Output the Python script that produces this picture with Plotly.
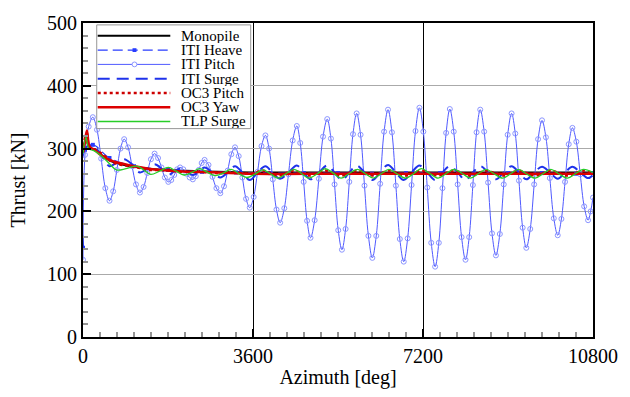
import plotly.graph_objects as go

# ---------------- data (azimuth in deg, thrust in kN) ----------------
az_pitch = [0, 42, 120, 208, 296, 385, 473, 561, 639, 717, 794, 872, 955, 1039, 1122,
            1205, 1283, 1361, 1438, 1516, 1589, 1662, 1734, 1807, 1869, 1932, 1994,
            2056, 2124, 2191, 2259, 2326, 2388, 2451, 2513, 2575, 2658, 2742, 2825,
            2908, 2986, 3064, 3141, 3219, 3297, 3375, 3453, 3531, 3614, 3697, 3780,
            3863, 3941, 4019, 4097, 4175, 4263, 4351, 4440, 4528, 4600, 4673, 4745,
            4818, 4906, 4995, 5083, 5172, 5250, 5327, 5405, 5483, 5561, 5639, 5717,
            5795, 5878, 5961, 6044, 6127, 6210, 6293, 6376, 6459, 6542, 6626, 6709,
            6792, 6875, 6958, 7041, 7124, 7207, 7290, 7374, 7457, 7535, 7612, 7690,
            7768, 7851, 7934, 8017, 8100, 8178, 8256, 8334, 8412, 8495, 8578, 8661,
            8744, 8827, 8910, 8993, 9076, 9154, 9232, 9310, 9388, 9471, 9554, 9637,
            9720, 9803, 9886, 9970, 10053, 10131, 10208, 10286, 10364, 10447, 10530,
            10613, 10696, 10750, 10800]
iti_pitch = [123, 290, 335, 350, 330, 284, 237, 217, 232, 266, 300, 315, 302, 272, 243,
             230, 239, 261, 283, 292, 285, 270, 254, 247, 250, 258, 267,
             270, 267, 260, 254, 251, 256, 266, 277, 282, 274, 255, 237,
             229, 240, 265, 291, 302, 288, 254, 220, 206, 223, 263, 304,
             321, 300, 251, 203, 182, 205, 259, 313, 336, 309, 247, 185,
             158, 186, 252, 319, 347, 316, 243, 170, 139, 172, 247, 323,
             356, 322, 241, 161, 126, 161, 244, 327, 362, 326, 241, 156,
             120, 157, 242, 328, 365, 327, 238, 150, 112, 150, 237, 325,
             363, 327, 243, 159, 123, 159, 242, 326, 362, 327, 246, 165,
             130, 164, 243, 322, 356, 324, 249, 174, 142, 172, 243, 315,
             345, 318, 253, 189, 162, 188, 247, 307, 333, 311, 259,
             208, 186, 200, 222]

az_surge = [0, 42, 208, 384, 561, 717, 872, 1038, 1205, 1360, 1516, 1662, 1807, 1932,
            2056, 2191, 2326, 2451, 2575, 2742, 2908, 3064, 3219, 3375, 3531, 3697,
            3863, 4019, 4175, 4351, 4528, 4673, 4818, 4995, 5172, 5327, 5483, 5639,
            5795, 5961, 6127, 6293, 6459, 6626, 6792, 6958, 7124, 7290, 7457, 7612,
            7768, 7934, 8100, 8256, 8412, 8578, 8744, 8910, 9076, 9232, 9388, 9554,
            9720, 9886, 10053, 10208, 10364, 10530, 10696, 10800]
iti_surge = [142, 300, 305, 290, 272, 278, 283, 275, 262, 268, 275, 268, 258, 264,
             268, 264, 258, 263, 270, 262, 254, 262, 272, 262, 250, 262,
             272, 261, 252, 262, 273, 262, 251, 262, 273, 262, 250, 262,
             273, 262, 250, 262, 274, 262, 250, 262, 273, 262, 250, 262,
             272, 262, 250, 262, 272, 262, 251, 262, 272, 262, 251, 262,
             271, 262, 252, 262, 271, 262, 253, 258]

az_heave = [0, 42, 208, 561, 1080, 1800, 2520, 3240, 3960, 4680, 5400, 6120, 6840,
            7560, 8280, 9000, 9720, 10440, 10800]
iti_heave = [142, 298, 306, 285, 272, 266, 263, 262, 261, 261, 261, 260, 261,
             261, 260, 261, 261, 260, 261]

az_mono = [0, 42, 83, 125, 166, 250, 353, 561, 768, 1080, 1392, 2015, 2845, 3600,
           5400, 7200, 9000, 10800]
monopile = [296, 312, 326, 305, 300, 299, 292, 281, 276, 271, 268, 265, 263, 262,
            262, 262, 262, 262]
oc3_yaw = [294, 311, 329, 306, 301, 298, 291, 282, 277, 272, 268, 264, 262, 260,
           260, 260, 260, 260]

az_tlp = [0, 62, 125, 249, 395, 561, 706, 914, 1142, 1288, 1433, 1620, 1807, 1973,
          2139, 2305, 2472, 2638, 2804, 2970, 3136, 3302, 3469, 3635,
          3801, 3967, 4133, 4299, 4466, 4632, 4777, 4964, 5130, 5296, 5463, 5629,
          5816, 5982, 6148, 6314, 6480, 6646, 6833, 7000, 7166, 7332, 7519, 7685,
          7851, 8038, 8204, 8370, 8536, 8703, 8890, 9056, 9222, 9388, 9575, 9741,
          9907, 10073, 10260, 10427, 10593, 10800]
tlp_surge = [292, 318, 300, 296, 288, 276, 266, 268, 272, 266, 259, 264, 270, 264,
             258, 262, 268, 262, 257, 261, 267, 260, 254, 259,
             266, 260, 253, 260, 267, 260, 253, 260, 268, 261, 253, 260,
             267, 260, 253, 260, 267, 260, 253, 260, 268, 261, 253, 260,
             267, 260, 253, 260, 267, 260, 253, 260, 267, 260, 253, 260,
             267, 260, 253, 260, 267, 262]
oc3_pitch = [294, 322, 303, 298, 292, 282, 276, 273, 270, 268, 266, 266, 266, 264,
             263, 263, 263, 262, 261, 261, 262, 261, 260, 261,
             265, 261, 257, 261, 265, 261, 257, 261, 265, 261, 257, 261,
             265, 261, 257, 261, 265, 261, 257, 261, 265, 261, 257, 261,
             265, 261, 257, 261, 265, 261, 257, 261, 265, 261, 257, 261,
             265, 261, 257, 261, 265, 261]

x_ticks = [0, 3600, 7200, 10800]
y_ticks = [0, 100, 200, 300, 400, 500]

# ---------------- styles ----------------
FONT = "'Liberation Serif', 'Times New Roman', 'DejaVu Serif', serif"
C_HEAVE = "rgb(40,60,255)"
C_PITCH = "rgb(80,90,255)"
C_PITCH_MK = "rgb(140,150,255)"
C_SURGE = "rgb(30,50,235)"
C_RED_DOT = "rgb(205,0,0)"
C_RED = "rgb(220,0,0)"
C_GREEN = "rgb(40,205,40)"

series = [
    dict(name="Monopile", x=az_mono, y=monopile, line=dict(color="black", width=2),
         mode="lines"),
    dict(name="ITI Heave", x=az_heave, y=iti_heave,
         line=dict(color=C_HEAVE, width=1.3, dash="10px,5px"),
         mode="lines+markers", marker=dict(symbol="square", size=4, color=C_HEAVE)),
    dict(name="ITI Pitch", x=az_pitch, y=iti_pitch, line=dict(color=C_PITCH, width=1),
         mode="lines+markers",
         marker=dict(symbol="circle-open", size=5, color=C_PITCH_MK, line=dict(width=1))),
    dict(name="ITI Surge", x=az_surge, y=iti_surge,
         line=dict(color=C_SURGE, width=2, dash="12px,7px"), mode="lines"),
    dict(name="OC3 Pitch", x=az_tlp, y=oc3_pitch,
         line=dict(color=C_RED_DOT, width=2.5, dash="3px,3px"), mode="lines"),
    dict(name="OC3 Yaw", x=az_mono, y=oc3_yaw, line=dict(color=C_RED, width=2.5),
         mode="lines"),
    dict(name="TLP Surge", x=az_tlp, y=tlp_surge, line=dict(color=C_GREEN, width=1.3),
         mode="lines"),
]

fig = go.Figure()
for s in series:
    ln = dict(s["line"])
    ln["shape"] = "spline"
    ln["smoothing"] = 1.0
    kw = dict(x=s["x"], y=s["y"], name=s["name"], mode=s["mode"], line=ln,
              showlegend=False, hoverinfo="skip")
    if "marker" in s:
        kw["marker"] = s["marker"]
    fig.add_trace(go.Scatter(**kw))

# ---------------- custom legend (shapes + text) ----------------
L, R, T, B = 83, 603, 16, 346
W, H = R - L, B - T
def px(x):
    return (x - L) / W
def py(y):
    return (B - y) / H

shapes = []
annotations = []
row_y = [29.5, 44.5, 59.5, 74.5, 89.5, 104.5, 119.5]
shapes.append(dict(type="rect", xref="paper", yref="paper", x0=px(97), x1=px(254),
                   y0=py(127), y1=py(18), fillcolor="white",
                   line=dict(color="rgb(150,150,150)", width=1), layer="above"))
for s, yy in zip(series, row_y):
    d = s["line"].get("dash", "solid")
    shapes.append(dict(type="line", xref="paper", yref="paper", x0=px(98), x1=px(172),
                       y0=py(yy), y1=py(yy), layer="above",
                       line=dict(color=s["line"]["color"], width=s["line"]["width"], dash=d)))
    annotations.append(dict(text=s["name"], xref="paper", yref="paper", x=px(181),
                            y=py(yy), xanchor="left", yanchor="middle", showarrow=False,
                            height=14,
                            font=dict(family=FONT, size=15, color="black")))
# legend symbols
shapes.append(dict(type="rect", xref="paper", yref="paper", x0=px(133.5), x1=px(137.5),
                   y0=py(row_y[1] + 2), y1=py(row_y[1] - 2), fillcolor=C_HEAVE,
                   line=dict(width=0), layer="above"))
shapes.append(dict(type="circle", xref="paper", yref="paper", x0=px(133), x1=px(138),
                   y0=py(row_y[2] + 2.5), y1=py(row_y[2] - 2.5), fillcolor="white",
                   line=dict(color=C_PITCH_MK, width=1), layer="above"))

fig.update_layout(
    width=630, height=397,
    margin=dict(l=L, r=630 - R, t=T, b=397 - B),
    paper_bgcolor="white", plot_bgcolor="white",
    font=dict(family=FONT, size=20, color="black"),
    shapes=shapes, annotations=annotations,
    showlegend=False,
)
fig.update_xaxes(
    range=[0, 10800], tickvals=x_ticks, ticktext=[str(v) for v in x_ticks],
    title=dict(text="Azimuth [deg]", font=dict(family=FONT, size=20), standoff=4),
    tickfont=dict(family=FONT, size=20),
    showline=True, linecolor="black", linewidth=2, mirror=True,
    ticks="inside", ticklen=8, tickcolor="black", tickwidth=1.5,
    showgrid=True, gridcolor="black", gridwidth=1.2, zeroline=False,
    minor=dict(dtick=360, tick0=0, ticks="inside", ticklen=5, tickcolor="rgb(150,150,150)",
               showgrid=False),
)
fig.update_yaxes(
    range=[0, 500], tickvals=y_ticks, ticktext=[str(v) for v in y_ticks],
    title=dict(text="Thrust [kN]", font=dict(family=FONT, size=20), standoff=16),
    tickfont=dict(family=FONT, size=20),
    showline=True, linecolor="black", linewidth=2, mirror=True,
    ticks="inside", ticklen=8, tickcolor="black", tickwidth=1.5,
    showgrid=True, gridcolor="rgb(170,170,170)", gridwidth=1.2, zeroline=False,
    minor=dict(dtick=20, tick0=0, ticks="inside", ticklen=5, tickcolor="rgb(150,150,150)",
               showgrid=False),
)

fig.write_html("out.html")
